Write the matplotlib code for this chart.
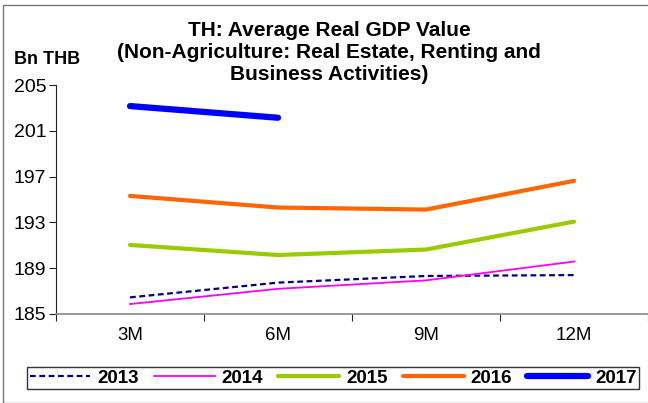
import matplotlib
matplotlib.use("Agg")
import matplotlib.pyplot as plt
from matplotlib.patches import Rectangle

plt.rcParams['font.family'] = ['Liberation Sans', 'DejaVu Sans']

periods = ["3M", "6M", "9M", "12M"]
gdp_2013 = [186.45, 187.74, 188.32, 188.4]
gdp_2014 = [185.87, 187.2, 187.94, 189.58]
gdp_2015 = [191.03, 190.15, 190.63, 193.07]
gdp_2016 = [195.31, 194.3, 194.12, 196.63]
gdp_2017 = [203.16, 202.14]
y_ticks = [185, 189, 193, 197, 201, 205]

W, H, DPI = 648, 403, 100
fig = plt.figure(figsize=(W / DPI, H / DPI), dpi=DPI)
ax = fig.add_axes([56 / W, 1 - 314 / H, 592 / W, 229 / H])

x = [i + 0.5 for i in range(len(periods))]
ax.plot(x, gdp_2013, color="#000080", lw=1.6, ls=(0, (2.6, 1.6)), label="2013")
ax.plot(x, gdp_2014, color="#FF00FF", lw=1.3, label="2014")
ax.plot(x, gdp_2015, color="#99CC00", lw=3.0, label="2015", solid_capstyle="round")
ax.plot(x, gdp_2016, color="#FF6600", lw=3.0, label="2016", solid_capstyle="round")
ax.plot(x[:len(gdp_2017)], gdp_2017, color="#0000FF", lw=4.5, label="2017",
        solid_capstyle="round")

ax.set_xlim(0, len(periods))
ax.set_ylim(185, 205)
ax.set_yticks(y_ticks)
ax.set_yticklabels([str(v) for v in y_ticks], fontsize=14)
ax.set_xticks(range(len(periods) + 1))
ax.set_xticklabels([])
ax.set_xticks(x, minor=True)
ax.set_xticklabels(periods, minor=True, fontsize=13.5)
ax.tick_params(axis="x", which="major", length=5, width=0.8, color="#222222")
ax.tick_params(axis="x", which="minor", length=0, pad=9)
ax.tick_params(axis="y", length=5, width=0.8, color="#222222", pad=2)
for s in ("top", "right"):
    ax.spines[s].set_visible(False)
ax.spines["left"].set_color("#222222")
ax.spines["bottom"].set_color("#888888")
ax.spines["left"].set_linewidth(0.8)
ax.spines["bottom"].set_linewidth(1.2)

fig.text(329 / W, 1 - 52 / H,
         "TH: Average Real GDP Value\n(Non-Agriculture: Real Estate, Renting and\nBusiness Activities)",
         ha="center", va="center", fontsize=15, fontweight="bold", linespacing=1.2)
fig.text(14 / W, 1 - 60 / H, "Bn THB", ha="left", va="center",
         fontsize=13, fontweight="bold")

leg = fig.legend(loc="center", bbox_to_anchor=(333 / W, 1 - 378 / H), ncol=5,
                 frameon=True, fancybox=False, edgecolor="black",
                 prop={"weight": "bold", "size": 13.5}, handlelength=3.25,
                 columnspacing=0.8, handletextpad=0.37, borderpad=0.15,
                 borderaxespad=0)
leg.get_frame().set_linewidth(1.0)

# outer chart frame
fig.patches.append(Rectangle((3 / W, 0), 1.0, 1 - 5 / H, transform=fig.transFigure,
                             fill=False, edgecolor="#777777", lw=1.0))

fig.savefig("out.png", dpi=DPI)
